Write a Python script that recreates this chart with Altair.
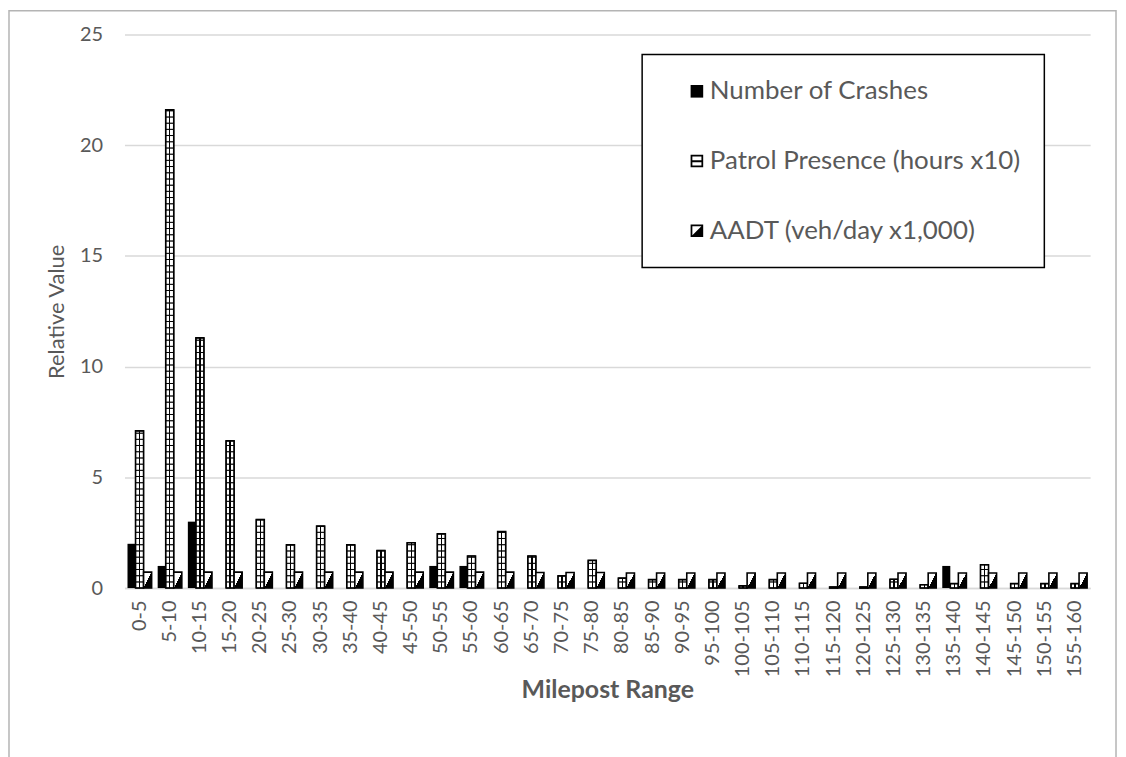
import altair as alt
import pandas as pd

categories = ["0-5", "5-10", "10-15", "15-20", "20-25", "25-30", "30-35", "35-40",
              "40-45", "45-50", "50-55", "55-60", "60-65", "65-70", "70-75", "75-80",
              "80-85", "85-90", "90-95", "95-100", "100-105", "105-110", "110-115",
              "115-120", "120-125", "125-130", "130-135", "135-140", "140-145",
              "145-150", "150-155", "155-160"]
crashes = [2, 1, 3, 0, 0, 0, 0, 0, 0, 0, 1, 1, 0, 0, 0, 0,
           0, 0, 0, 0, 0, 0, 0, 0, 0, 0, 0, 1, 0, 0, 0, 0]
patrol = [7.1, 21.6, 11.3, 6.65, 3.1, 1.95, 2.8, 1.95, 1.7, 2.05, 2.45, 1.45, 2.55, 1.45, 0.55, 1.25,
          0.45, 0.38, 0.38, 0.38, 0.1, 0.38, 0.22, 0.05, 0.05, 0.4, 0.15, 0.2, 1.05, 0.2, 0.2, 0.2]
aadt = [0.72, 0.72, 0.72, 0.72, 0.72, 0.72, 0.72, 0.72, 0.72, 0.72, 0.72, 0.72, 0.72, 0.7, 0.7, 0.7,
        0.68, 0.68, 0.68, 0.68, 0.68, 0.68, 0.68, 0.68, 0.68, 0.68, 0.68, 0.68, 0.68, 0.68, 0.68, 0.68]
series = ["Number of Crashes", "Patrol Presence (hours x10)", "AADT (veh/day x1,000)"]

rows = []
for i, c in enumerate(categories):
    rows.append({"range": c, "series": series[0], "value": crashes[i]})
    rows.append({"range": c, "series": series[1], "value": patrol[i]})
    rows.append({"range": c, "series": series[2], "value": aadt[i]})
df = pd.DataFrame(rows)

GREY = "#595959"
FONT = "Lato"

x_enc = alt.X("range:N", sort=categories,
              scale=alt.Scale(paddingInner=0.2, paddingOuter=0.1),
              axis=alt.Axis(title="Milepost Range", labelAngle=270, labelFontSize=20,
                            labelColor=GREY, labelPadding=12, ticks=False,
                            domainColor="#d9d9d9", domainWidth=1.5,
                            titleFontWeight="bold", titleFontSize=25, titleColor=GREY,
                            titleY=110, titleBaseline="alphabetic"))
xo_enc = alt.XOffset("series:N", sort=series, scale=alt.Scale(domain=series))
y_axis = alt.Axis(title="Relative Value", values=[0, 5, 10, 15, 20, 25], labelFontSize=20,
                  labelColor=GREY, labelPadding=22, ticks=False, domain=False,
                  gridColor="#d9d9d9", gridWidth=1.5,
                  titleFontSize=22, titleColor=GREY, titleFontWeight="normal",
                  titleAngle=270, titleX=-61, titleY=278, titleAlign="center",
                  titleBaseline="alphabetic")
y_scale = alt.Scale(domain=[0, 25])

base = alt.Chart(df)

crash_layer = base.transform_filter(alt.datum.series == series[0]).mark_bar(
    fill="black", strokeWidth=0
).encode(x=x_enc, xOffset=xo_enc,
         y=alt.Y("value:Q", scale=y_scale, axis=y_axis, stack=None))

stripe_fill = alt.LinearGradient(
    gradient="linear", x1=0, y1=0, x2=1, y2=0,
    stops=[alt.GradientStop(offset=0, color="white"),
           alt.GradientStop(offset=0.42, color="white"),
           alt.GradientStop(offset=0.42, color="black"),
           alt.GradientStop(offset=0.58, color="black"),
           alt.GradientStop(offset=0.58, color="white"),
           alt.GradientStop(offset=1, color="white")])

patrol_cells = base.transform_filter(alt.datum.series == series[1]).transform_calculate(
    seg="sequence(0, datum.value, 0.28)"
).transform_flatten(["seg"]).transform_calculate(
    seg2="min(datum.seg + 0.28, datum.value)"
).mark_bar(fill=stripe_fill, stroke="black", strokeWidth=1).encode(
    x=x_enc, xOffset=xo_enc,
    y=alt.Y("seg:Q", scale=y_scale, axis=y_axis, stack=None),
    y2="seg2:Q")

patrol_outline = base.transform_filter(alt.datum.series == series[1]).mark_bar(
    fillOpacity=0, stroke="black", strokeWidth=1.6
).encode(x=x_enc, xOffset=xo_enc,
         y=alt.Y("value:Q", scale=y_scale, axis=y_axis, stack=None))

diag_fill = alt.LinearGradient(
    gradient="linear", x1=0, y1=0, x2=1, y2=1,
    stops=[alt.GradientStop(offset=0, color="white"),
           alt.GradientStop(offset=0.5, color="white"),
           alt.GradientStop(offset=0.5, color="black"),
           alt.GradientStop(offset=1, color="black")])

aadt_layer = base.transform_filter(alt.datum.series == series[2]).mark_bar(
    fill=diag_fill, stroke="black", strokeWidth=1.6
).encode(x=x_enc, xOffset=xo_enc,
         y=alt.Y("value:Q", scale=y_scale, axis=y_axis, stack=None))

sym_crash = "M-1,-1H1V1H-1Z"
sym_patrol = "M-1,-1H1V1H-1Z M-0.72,-0.72V0.72H0.72V-0.72Z M-0.72,-0.12H0.72V0.18H-0.72Z"
sym_aadt = "M-1,-1H1V1H-1Z M-0.72,-0.72V0.72H0.72V-0.72Z M1,-1L1,1L-1,1Z"

legend_layer = base.transform_filter("false").mark_point(filled=True, color="black", opacity=1).encode(
    x=x_enc,
    y=alt.Y("value:Q", scale=y_scale, axis=y_axis),
    shape=alt.Shape("series:N",
                    scale=alt.Scale(domain=series, range=[sym_crash, sym_patrol, sym_aadt]),
                    legend=alt.Legend(title=None, orient="none", legendX=520, legendY=20,
                                      padding=24, symbolOffset=18, rowPadding=44,
                                      labelFont=FONT, labelFontSize=26, labelColor=GREY,
                                      labelLimit=600, labelOffset=0,
                                      symbolSize=160, symbolFillColor="black",
                                      symbolStrokeWidth=0, symbolOpacity=1,
                                      strokeColor="black", fillColor="white")))

frame = alt.Chart(pd.DataFrame({"k": [0]})).mark_rect(
    fillOpacity=0, stroke="#b4b4b4", strokeWidth=1.5
).encode(x=alt.value(-116), x2=alt.value(996), y=alt.value(-24), y2=alt.value(760))

chart = alt.layer(
    frame, crash_layer, patrol_cells, patrol_outline, aadt_layer, legend_layer
).properties(
    width=970, height=556,
    autosize=alt.AutoSizeParams(type="none"),
    padding={"left": 117, "top": 25, "right": 28, "bottom": 168}
).configure_view(stroke=None).configure_axis(
    labelFont=FONT, titleFont=FONT
).configure_legend(strokeWidth=1.5)

chart.save("out.html", embed_options={"renderer": "svg", "actions": False})
